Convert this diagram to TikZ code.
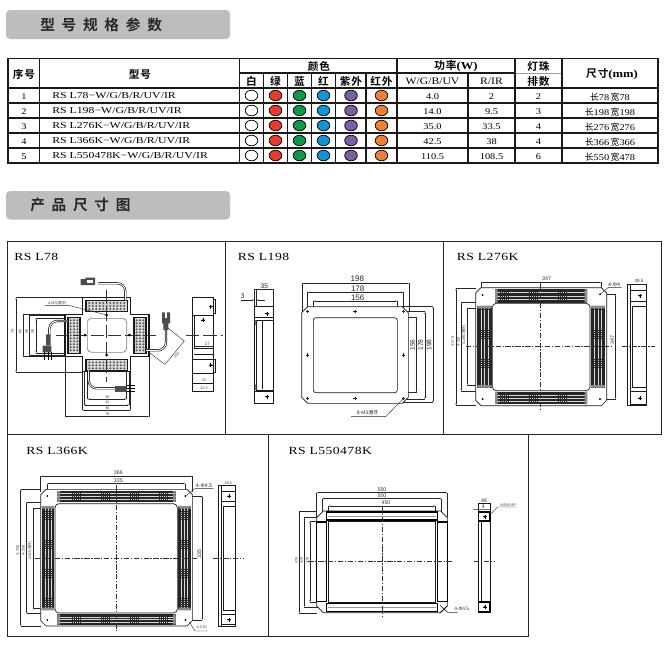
\documentclass[tikz,border=0pt]{standalone}
\usepackage{fontspec}
\usetikzlibrary{arrows.meta}
\setmainfont{Liberation Serif}
\newfontfamily\serifw[FakeStretch=1.18]{Liberation Serif}
\newfontfamily\serifm[FakeStretch=1.3]{Liberation Serif}
\newfontfamily\serifb[FakeStretch=1.25,LetterSpace=4]{Liberation Serif}
\newfontfamily\dimf{Liberation Sans}
\newfontfamily\cjk{Noto Sans CJK SC}
\newfontfamily\cjkb[BoldFont=Noto Sans CJK SC Bold,LetterSpace=8]{Noto Sans CJK SC}
\newfontfamily\cjkt[LetterSpace=46]{Noto Sans CJK SC Bold}
\definecolor{banner}{HTML}{BDBDBD}
\definecolor{ledr}{HTML}{E8392B}
\definecolor{ledg}{HTML}{0B9A4A}
\definecolor{ledb}{HTML}{0E97D8}
\definecolor{ledp}{HTML}{7B5FA6}
\definecolor{ledo}{HTML}{F08030}
\tikzset{
  bannerbox/.style={fill=banner,draw=none,rounded corners=3pt},
  bannertxt/.style={inner sep=0pt,anchor=west,font=\fontsize{11}{13}\cjkt,text=black!85},
  tbl/.style={line width=1.1pt,black!90},
  hdr/.style={inner sep=0pt,font=\fontsize{8}{10}\bfseries\cjkb},
  rowtxt/.style={inner sep=0pt,font=\fontsize{6.6}{8}\serifw},
  modeltxt/.style={inner sep=0pt,anchor=west,font=\fontsize{6.8}{8}\serifm},
  led/.style={draw=black,line width=.55pt},
  frame/.style={draw=black!85,line width=.7pt},
  title/.style={inner sep=0pt,anchor=west,font=\fontsize{8.2}{10}\serifb},
  dl/.style={line width=.3pt,black!85},
  ol/.style={line width=.5pt,black!90},
  cl/.style={line width=.45pt,black!80,dash pattern=on 4pt off 1.2pt on 1pt off 1.2pt},
  dt/.style={inner sep=0pt,text=black!80,font=\fontsize{4}{5}\dimf},
  dtb/.style={inner sep=0pt,text=black!85,font=\fontsize{6}{7}\dimf},
  dts/.style={inner sep=0pt,text=black!75,font=\fontsize{2.8}{3.5}\dimf},
}
\newcounter{lb}
\newcommand\lbl[3][]{\stepcounter{lb}\node[dt,#1] (lb\thelb) at (#2) {#3};}
\newcommand\dimT[5]{\draw[dl,{Stealth[length=1.6pt,width=.9pt]}-{Stealth[length=1.6pt,width=.9pt]}] (#1,#5) -- (#3,#5);
  \draw[dl] (#1,#2) -- (#1,#5) (#3,#4) -- (#3,#5);}
\newcommand\dimL[5]{\draw[dl,{Stealth[length=1.6pt,width=.9pt]}-{Stealth[length=1.6pt,width=.9pt]}] (#5,#2) -- (#5,#4);
  \draw[dl] (#1,#2) -- (#5,#2) (#3,#4) -- (#5,#4);}
\newcommand\plate[5]{\draw[ol,fill=white] ({#1+#5},#2) -- ({#3-#5},#2) -- (#3,{#2+#5}) -- (#3,{#4-#5}) -- ({#3-#5},#4) -- ({#1+#5},#4) -- (#1,{#4-#5}) -- (#1,{#2+#5}) -- cycle;}
\newcommand\hstrip[4]{\fill[black!85] (#1,#2) rectangle (#3,#4);
  \foreach \k in {1,...,3}{\draw[white!85!black,line width=.4pt,dash pattern=on 1.2pt off .25pt] (#1,{#2+(#4-#2)*\k/4}) -- (#3,{#2+(#4-#2)*\k/4});}
  \fill[black!45] (#1,#2) rectangle ({#1+8},#4) ({#3-8},#2) rectangle (#3,#4);}
\newcommand\vstrip[4]{\fill[black!85] (#1,#2) rectangle (#3,#4);
  \foreach \k in {1,...,3}{\draw[white!85!black,line width=.4pt,dash pattern=on 1.2pt off .25pt] ({#1+(#3-#1)*\k/4},#2) -- ({#1+(#3-#1)*\k/4},#4);}
  \fill[black!45] (#1,#2) rectangle (#3,{#2+8}) (#1,{#4-8}) rectangle (#3,#4);}
\newcommand\screw[2]{\fill[black] (#1,#2) circle (4);\draw[line width=.5pt] (#1-6,#2) -- (#1+6,#2) (#1,#2-6) -- (#1,#2+6);}
\newcommand\hole[2]{\fill[black] (#1,#2) circle (3);\draw[dl] (#1-5,#2) -- (#1+5,#2) (#1,#2-5) -- (#1,#2+5);}
\begin{document}
\begin{tikzpicture}[x=.75pt,y=-.75pt]
\useasboundingbox (0,0) rectangle (666,653);
\fill[white] (0,0) rectangle (666,653);
\fill[bannerbox] (6,10) rectangle (230,39);
\node[bannertxt] (ban1) at (40,25) {型号规格参数};
\fill[bannerbox] (6,191) rectangle (230,219.5);
\node[bannertxt] (ban2) at (30,205) {产品尺寸图};
\draw[tbl] (8,58.5) rectangle (658,163);
\draw[tbl,line width=.8pt] (239.5,73) -- (515,73);
\draw[black!40,line width=.6pt] (515,73) -- (562,73);
\draw[tbl] (8,88) -- (658,88);
\foreach \y in {103,118,133,148}{\draw[tbl] (8,\y) -- (658,\y);}
\foreach \x in {39.5,239.5,397,515,562}{\draw[tbl] (\x,58.5) -- (\x,163);}
\foreach \x in {263.5,287.5,311.5,335.5,366}{\draw[tbl] (\x,73) -- (\x,163);}
\draw[tbl] (468,73) -- (468,163);
\node[hdr] (h1) at (24,74) {序号};
\node[hdr] (h2) at (140,74) {型号};
\node[hdr,font=\fontsize{8}{10}\bfseries\cjkb] (h3) at (319,66) {颜色};
\node[hdr] (c1) at (251.5,81) {白};
\node[hdr] (c2) at (275.5,81) {绿};
\node[hdr] (c3) at (299.5,81) {蓝};
\node[hdr] (c4) at (323.5,81) {红};
\node[hdr] (c5) at (351,81) {紫外};
\node[hdr] (c6) at (381.5,81) {红外};
\node[hdr] (p0) at (456,66) {功率\serifw\bfseries(W)};
\node[rowtxt,font=\fontsize{7.4}{9}\serifw] (p1) at (432.5,81) {W/G/B/UV};
\node[rowtxt,font=\fontsize{7.4}{9}\serifw] (p2) at (491.5,81) {R/IR};
\node[hdr] (n1) at (538.5,66) {灯珠};
\node[hdr] (n2) at (538.5,81) {排数};
\node[hdr] (s0) at (612,74) {尺寸\serifw\bfseries(mm)};
\newcommand\tblrow[7]{%
  \node[rowtxt] (no#1) at (24,{81.5+15*#1}) {#1};
  \node[modeltxt] (md#1) at (52,{81+15*#1}) {#2};
  \foreach \cx/\cc in {251.5/white,275.5/ledr,299.5/ledg,323.5/ledb,351/ledp,381.5/ledo}{
    \draw[led,fill=\cc] (\cx,{80.5+15*#1}) ellipse (6.3 and 5.3);}
  \node[rowtxt] (wa#1) at (432.5,{82+15*#1}) {#3};
  \node[rowtxt] (wb#1) at (491.5,{82+15*#1}) {#4};
  \node[rowtxt] (nn#1) at (538.5,{82+15*#1}) {#5};
  \node[rowtxt] (sz#1) at (610,{82+15*#1}) {{\cjk 长}#6\,{\cjk 宽}#7};
}
\tblrow{1}{RS L78−W/G/B/R/UV/IR}{4.0}{2}{2}{78}{78}
\tblrow{2}{RS L198−W/G/B/R/UV/IR}{14.0}{9.5}{3}{198}{198}
\tblrow{3}{RS L276K−W/G/B/R/UV/IR}{35.0}{33.5}{4}{276}{276}
\tblrow{4}{RS L366K−W/G/B/R/UV/IR}{42.5}{38}{4}{366}{366}
\tblrow{5}{RS L550478K−W/G/B/R/UV/IR}{110.5}{108.5}{6}{550}{478}
\draw[frame] (7,241.5) rectangle (661,434);
\draw[frame] (225.5,241.5) -- (225.5,434) (443,241.5) -- (443,434);
\draw[frame] (7,434) rectangle (268,636.5) (268,434) rectangle (528,636.5);
%=== Panel 1
\begin{scope}[shift={(0,235)},x=.25pt,y=-.25pt]
\node[title] (t1) at (42,67) {RS L78};
\dimL{248}{188}{248}{412}{48}
\dimL{195}{238}{195}{365}{70}
\dimL{195}{240}{195}{362}{88}
\dimL{204}{250}{204}{355}{108}
\lbl[rotate=90,dts]{38,290}{78}\lbl[rotate=90,dts]{60,290}{60}\lbl[rotate=90,dts]{80,290}{46}\lbl[rotate=90,dts]{98,290}{38}
\dimT{262}{406}{380}{406}{492}
\dimT{252}{410}{388}{410}{510}
\dimT{248}{410}{392}{410}{526}
\dimT{195}{365}{447}{365}{545}
\lbl[dts]{322,487}{38}\lbl[dts]{322,503}{42}\lbl[dts]{322,520}{46}\lbl[dts]{322,538}{78}
\draw[ol,line width=.8pt,fill=white] (248,188) -- (392,188) -- (392,238) -- (447,238) -- (447,365) -- (392,365) -- (392,410) -- (248,410) -- (248,365) -- (195,365) -- (195,238) -- (248,238) -- cycle;
\draw[dl,rounded corners=3pt,line width=.5pt,black!50] (262,250) rectangle (380,352);
\draw[ol,line width=.8pt,fill=black!15] (258,196) rectangle (382,230) (258,374) rectangle (382,406) (204,248) rectangle (240,356) (402,248) rectangle (438,356);
\foreach \i in {0,...,10}{\foreach \j in {0,1,2}{
  \fill[black!65] ({268+\i*10.5},{204+\j*9}) circle (3.4);
  \fill[black!65] ({268+\i*10.5},{382+\j*9}) circle (3.4);
  \fill[black!65] ({212+\j*10},{256+\i*9}) circle (3.4);
  \fill[black!65] ({410+\j*10},{256+\i*9}) circle (3.4);}}
\draw[cl,dash pattern=on 10pt off 3pt] (168,300) -- (470,300);
\draw[cl,dash pattern=on 10pt off 3pt] (320,165) -- (320,440);
\foreach \p/\q in {320/240,320/360,255/300,388/300}{\fill[black] (\p,\q) circle (4.5);}
\draw[ol,double=white,double distance=.7pt,rounded corners=6pt] (376,196) -- (376,145) -- (295,145);
\fill[black!70] (256,128) rectangle (285,150) (242,132) rectangle (258,150);
\fill[white] (262,134) rectangle (280,145);
\draw[ol,double=white,double distance=.7pt,rounded corners=6pt] (204,258) -- (148,258) -- (148,300);
\fill[black!70] (138,298) rectangle (152,330) (128,332) rectangle (154,352);
\draw[line width=.6pt] (133,352) -- (133,376) (145,352) -- (145,376) (155,352) -- (155,376);
\draw[ol,double=white,double distance=.7pt,rounded corners=6pt] (438,346) -- (498,346) -- (498,280);
\fill[black!70] (490,265) rectangle (505,285) (486,232) rectangle (510,265);
\fill[white] (494,230) rectangle (502,248);
\draw[ol,double=white,double distance=.7pt,rounded corners=6pt] (266,406) -- (266,460) -- (345,460);
\fill[black!70] (345,452) rectangle (382,470);
\draw[line width=.6pt] (382,450) -- (405,450) (382,460) -- (405,460) (382,470) -- (405,470);
\draw[dl] (505,280) -- (553,318) -- (495,388) -- (447,352);
\lbl[rotate=50,dts]{530,360}{300}
\draw[dl] (320,240) -- (210,212) -- (135,212);
\lbl[dts]{172,205}{4-M3({\cjk 通牙})}
\draw[ol,line width=.8pt] (577,188) rectangle (640,470);
\draw[ol] (577,240) -- (640,240) (583,240) -- (583,340) (583,340) -- (640,340) (583,358) -- (640,358) (577,372) -- (640,372) (577,415) -- (640,415) (577,445) -- (640,445);
\draw[ol] (640,192) -- (647,192) -- (647,235) -- (640,235) (640,372) -- (647,372) -- (647,412) -- (640,412);
\screw{632}{215}\screw{632}{390}\screw{610}{255}
\draw[dl] (585,335) -- (640,335);
\lbl[dts,font=\fontsize{3.4}{4}\dimf]{622,327}{17}
\lbl[dts]{612,437}{22}\lbl[dts]{612,460}{22.5}
\draw[cl,dash pattern=on 10pt off 3pt] (558,300) -- (670,300);
\end{scope}
%=== Panel 2
\begin{scope}[shift={(225,235)},x=.25pt,y=-.25pt]
\node[title] (t2) at (38,67) {RS L198};
\draw[ol,line width=.8pt] (88,215) rectangle (146,505);
\draw[ol,fill=white] (88,215) rectangle (146,248) (88,470) rectangle (146,505);
\draw[ol] (94,255) rectangle (146,465) (112,255) -- (112,462);
\fill[black!80] (91,255) rectangle (96,270) (91,448) rectangle (96,465);
\screw{127}{236}\screw{127}{485}
\dimT{88}{215}{146}{215}{163}
\lbl[dtb,font=\fontsize{5}{6}\dimf]{118,155}{35}
\draw[dl,-{Stealth[length=1.6pt,width=.9pt]}] (47,195) -- (88,195);
\draw[dl,{Stealth[length=1.6pt,width=.9pt]}-] (94,195) -- (120,195);
\draw[dl] (94,163) -- (94,215);
\lbl[dtb,font=\fontsize{5}{6}\dimf]{53,185}{3}
\dimT{232}{230}{552}{230}{145}
\dimT{248}{230}{535}{230}{172}
\dimT{265}{248}{517}{248}{198}
\dimL{530}{215}{530}{503}{624}
\dimL{536}{230}{536}{492}{600}
\dimL{517}{247}{517}{473}{575}
\plate{230}{215}{550}{505}{18}
\draw[ol,rounded corners=2pt] (265,248) rectangle (517,473);
\foreach \p/\q in {248/230,390/230,536/230,248/360,536/360,248/490,390/490,536/490}{\hole{\p}{\q}}
\lbl[dtb]{397,132}{198}\lbl[dtb]{398,160}{178}\lbl[dtb]{398,187}{156}
\lbl[dtb,rotate=90,font=\fontsize{5}{6}\dimf]{563,330}{156}\lbl[dtb,rotate=90,font=\fontsize{5}{6}\dimf]{587,330}{178}\lbl[dtb,rotate=90,font=\fontsize{5}{6}\dimf]{612,330}{198}
\draw[dl] (536,490) -- (482,545) -- (378,545);
\lbl[dt,font=\fontsize{3.8}{4.5}\dimf]{428,532}{8-M3{\cjk 通牙}}
\end{scope}
%=== Panel 3
\begin{scope}[shift={(440,235)},x=.25pt,y=-.25pt]
\node[title] (t3) at (50,67) {RS L276K};
\dimT{125}{178}{483}{178}{142}
\dimL{107}{160}{107}{512}{48}
\dimL{112}{203}{112}{468}{64}
\dimL{112}{220}{112}{450}{82}
\dimL{480}{178}{480}{492}{527}
\plate{107}{158}{500}{512}{16}
\draw[ol,rounded corners=3pt] (157,205) rectangle (450,467);
\hstrip{165}{163}{442}{203}\hstrip{165}{470}{442}{508}
\vstrip{112}{212}{155}{458}\vstrip{452}{212}{495}{458}
\foreach \p/\q in {128/180,480/178,128/492,480/492}{\fill[black] (\p,\q) circle (3.2);}
\draw[cl] (78,335) -- (515,335);
\draw[cl] (302,145) -- (302,525);
\lbl[]{320,132}{347}
\lbl[rotate=90,dts]{38,320}{4-278}\lbl[rotate=90,dts]{55,320}{4-118}\lbl[rotate=90,dts]{72,300}{4-196({\cjk 通牙})}
\lbl[rotate=90]{517,315}{347}
\draw[dl] (480,178) -- (505,157) -- (545,157);
\lbl[]{522,149}{4-Φ4}
\draw[ol] (562,147) -- (618,147) -- (618,512) -- (562,512) -- cycle;
\draw[ol] (570,147) -- (570,512);
\draw[ol,fill=white] (570,165) rectangle (618,200) (570,470) rectangle (618,508) (578,213) rectangle (618,457);
\screw{600}{182}\screw{600}{490}
\draw[cl] (545,335) -- (645,335);
\lbl[dt,font=\fontsize{3.4}{4}\dimf]{597,137}{39.5}
\end{scope}
%=== Panel 4
\begin{scope}[shift={(0,432)},x=.25pt,y=-.25pt]
\node[title] (t4) at (78,57) {RS L366K};
\dimT{122}{180}{577}{180}{133}
\dimT{142}{192}{556}{192}{155}
\dimL{122}{172}{122}{582}{62}
\dimL{125}{210}{125}{545}{80}
\dimL{125}{228}{125}{530}{100}
\dimL{556}{192}{556}{564}{607}
\plate{122}{172}{577}{582}{16}
\draw[ol,rounded corners=3pt] (165,215) rectangle (532,543);
\hstrip{172}{177}{527}{210}\hstrip{172}{547}{527}{578}
\vstrip{125}{222}{163}{535}\vstrip{535}{222}{572}{535}
\foreach \p/\q in {142/192,556/192,142/564,556/564}{\fill[black] (\p,\q) circle (3.2);}
\draw[cl] (105,378) -- (590,378);
\draw[cl] (348,160) -- (348,597);
\lbl[]{355,122}{366}\lbl[]{355,145}{335}
\lbl[rotate=90,dts]{53,355}{4-288}\lbl[rotate=90,dts]{70,355}{4-258}\lbl[rotate=90,dts]{90,355}{4-M3({\cjk 通牙})}
\lbl[rotate=90,dt]{598,365}{335}
\draw[dl] (556,192) -- (585,170) -- (640,170);
\lbl[]{612,162}{4-Φ4.5}
\draw[dl] (568,570) -- (585,597) -- (625,597);
\lbl[dts]{605,587}{4-C10}
\draw[ol] (655,160) rectangle (707,582);
\draw[ol] (663,160) -- (663,582);
\draw[ol,fill=white] (665,178) rectangle (707,208) (665,547) rectangle (707,578) (670,222) rectangle (707,535);
\screw{688}{193}\screw{688}{563}
\draw[cl] (640,378) -- (730,378);
\lbl[dts]{685,153}{39.5}
\end{scope}
%=== Panel 5
\begin{scope}[shift={(265,432)},x=.25pt,y=-.25pt]
\node[title] (t5) at (70,57) {RS L550478K};
\dimT{155}{255}{547}{255}{182}
\dimT{172}{240}{530}{240}{200}
\dimT{190}{240}{512}{240}{222}
\dimL{155}{237}{155}{543}{103}
\dimL{172}{255}{172}{525}{118}
\dimL{185}{268}{185}{510}{135}
\plate{155}{237}{547}{542}{20}
\draw[ol] (190,268) rectangle (512,510);
\draw[line width=.9pt,fill=white] (185,240) rectangle (517,264) (185,515) rectangle (517,538) (155,270) rectangle (185,508) (517,270) rectangle (547,508);
\draw[line width=.5pt,black!40] (190,252) -- (512,252) (190,527) -- (512,527);
\draw[cl] (130,389) -- (565,389);
\draw[cl] (351,225) -- (351,555);
\lbl[]{351,172}{550}\lbl[]{351,191}{500}\lbl[]{363,212}{450}
\lbl[rotate=90,dts]{95,385}{478}\lbl[rotate=90,dts]{110,385}{428}\lbl[rotate=90,dts]{127,385}{378}
\draw[dl,line width=.5pt] (525,520) -- (548,541) -- (578,541) (548,520) -- (525,542);
\lbl[dt,font=\fontsize{3.6}{4.5}\dimf]{590,532}{4-Φ4.5}
\draw[ol] (640,213) rectangle (675,540);
\draw[line width=1pt,fill=white] (640,240) rectangle (675,267) (640,510) rectangle (675,540);
\draw[ol] (648,270) -- (648,508) (640,240) -- (640,540);
\screw{660}{254}\screw{660}{525}
\draw[dl] (625,232) -- (675,232) (675,248) -- (698,225) -- (755,225);
\draw[cl] (627,389) -- (690,389);
\lbl[]{657,205}{46}\lbl[]{655,224}{4}
\lbl[dts]{730,219}{M5X0.8P}
\end{scope}
\end{tikzpicture}
\end{document}
